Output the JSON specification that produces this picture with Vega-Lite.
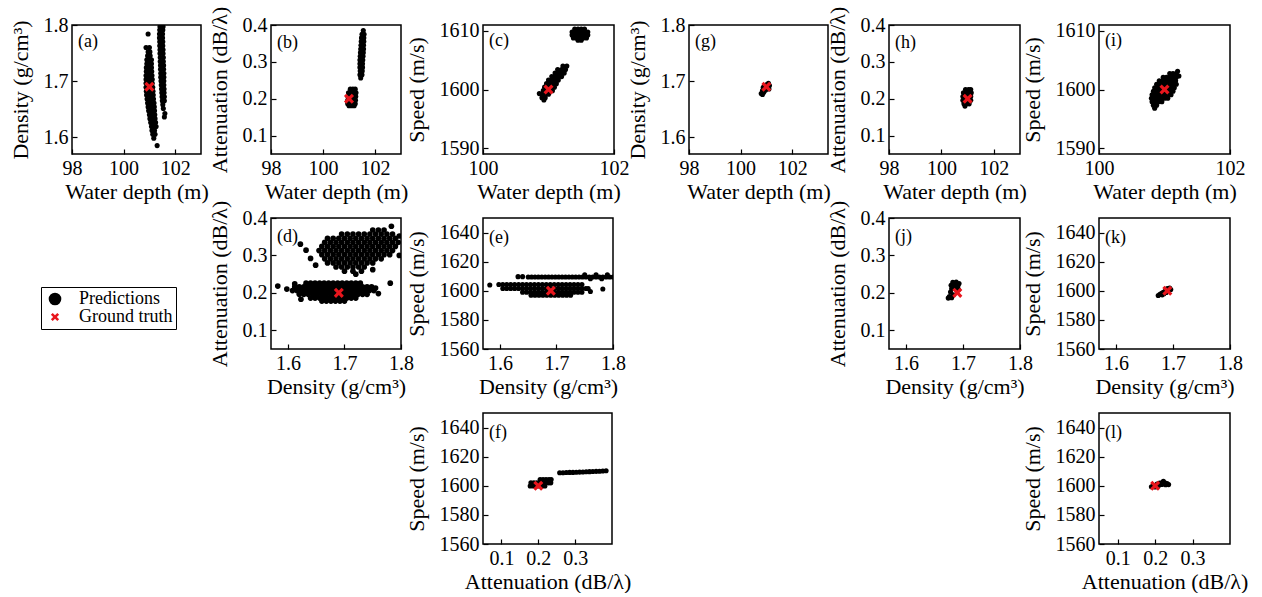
{
"$schema":"https://vega.github.io/schema/vega-lite/v6.json",
"background":"white",
"padding":{"left":0,"top":5,"right":0,"bottom":0},
"data":{"values":[{}]},
"config":{
 "view":{"stroke":null},
 "point":{"filled":true,"opacity":1,"size":26},
 "axis":{"domain":false,"grid":false,"tickColor":"black","tickSize":-5,"tickWidth":1.2,"labelFont":"Liberation Serif","labelFontSize":20,"labelColor":"black","labelPadding":9,"labelFlush":false,"labelOverlap":false,"titleFont":"Liberation Serif","titleFontSize":22,"titleFontWeight":"normal","titleColor":"black","titlePadding":7},
 "axisX":{"titlePadding":3},
 "axisY":{"titlePadding":11},
 "title":{"anchor":"start","frame":"group","offset":0,"dx":6,"dy":40,"baseline":"alphabetic","font":"Liberation Serif","fontSize":18,"fontWeight":"normal","color":"black"},
 "legend":{"strokeColor":"black","padding":3,"fillColor":"white","labelFont":"Liberation Serif","labelFontSize":18,"labelColor":"black","symbolSize":160,"symbolStrokeWidth":0,"rowPadding":0,"labelOffset":15,"symbolOffset":2}
},
"columns":12,
"align":"each",
"bounds":"flush",
"spacing":{"row":64,"column":0},
"concat":[
 {"width":72,"height":1,"mark":"text"},
 {"width":129,"height":129,"view":{"stroke":"black","strokeWidth":1.5},"title":{"text":"(a)","dy":40},
  "encoding":{"x":{"field":"x","type":"quantitative","scale":{"domain":[98,103],"nice":false},"axis":{"values":[98,100,102],"format":"d","title":"Water depth (m)"}},
              "y":{"field":"y","type":"quantitative","scale":{"domain":[1.57,1.8],"nice":false},"axis":{"values":[1.6,1.7,1.8],"format":".1f","title":"Density (g/cm³)"}}},
  "layer":[
   {"data":{"name":"a"},"mark":{"type":"point","clip":true},"encoding":{
     "color":{"datum":"Predictions","scale":{"domain":["Predictions","Ground truth"],"range":["#000000","#e8161d"]},"legend":{"orient":"none","legendX":41,"legendY":262,"title":null}},
     "shape":{"datum":"Predictions","scale":{"domain":["Predictions","Ground truth"],"range":["circle","M-0.65,-0.36L-0.36,-0.65L0,-0.29L0.36,-0.65L0.65,-0.36L0.29,0L0.65,0.36L0.36,0.65L0,0.29L-0.36,0.65L-0.65,0.36L-0.29,0Z"]},"legend":{"orient":"none","legendX":41,"legendY":262,"title":null}}}},
   {"data":{"values":[{"x":101,"y":1.69}]},"mark":{"type":"point","size":240},"encoding":{"color":{"datum":"Ground truth"},"shape":{"datum":"Ground truth"}}}
  ]},
 {"width":70,"height":1,"mark":"text"},
 {"width":130,"height":129,"view":{"stroke":"black","strokeWidth":1.5},"title":{"text":"(b)","dy":50},
  "encoding":{"x":{"field":"x","type":"quantitative","scale":{"domain":[98,103],"nice":false},"axis":{"values":[98,100,102],"format":"d","title":"Water depth (m)"}},
              "y":{"field":"y","type":"quantitative","scale":{"domain":[0.05,0.4],"nice":false},"axis":{"values":[0.1,0.2,0.3,0.4],"format":".1f","title":"Attenuation (dB/λ)"}}},
  "layer":[
   {"data":{"name":"b"},"mark":{"type":"point","clip":true},"encoding":{"color":{"datum":"Predictions"},"shape":{"datum":"Predictions"}}},
   {"data":{"values":[{"x":101,"y":0.2}]},"mark":{"type":"point","size":240},"encoding":{"color":{"datum":"Ground truth"},"shape":{"datum":"Ground truth"}}}
  ]},
 {"width":82,"height":1,"mark":"text"},
 {"width":131,"height":129,"view":{"stroke":"black","strokeWidth":1.5},"title":{"text":"(c)","dy":33},
  "encoding":{"x":{"field":"x","type":"quantitative","scale":{"domain":[100,102],"nice":false},"axis":{"values":[100,101,102],"format":"d","title":"Water depth (m)"}},
              "y":{"field":"y","type":"quantitative","scale":{"domain":[1589,1611],"nice":false},"axis":{"values":[1590,1600,1610],"format":"d","title":"Speed (m/s)"}}},
  "layer":[
   {"data":{"name":"c"},"mark":{"type":"point","clip":true},"encoding":{"color":{"datum":"Predictions"},"shape":{"datum":"Predictions"}}},
   {"data":{"values":[{"x":101,"y":1600}]},"mark":{"type":"point","size":240},"encoding":{"color":{"datum":"Ground truth"},"shape":{"datum":"Ground truth"}}}
  ]},
 {"width":75,"height":1,"mark":"text"},
 {"width":139,"height":129,"view":{"stroke":"black","strokeWidth":1.5},"title":{"text":"(g)","dy":40},
  "encoding":{"x":{"field":"x","type":"quantitative","scale":{"domain":[98,103.39],"nice":false},"axis":{"values":[98,100,102],"format":"d","title":"Water depth (m)"}},
              "y":{"field":"y","type":"quantitative","scale":{"domain":[1.57,1.8],"nice":false},"axis":{"values":[1.6,1.7,1.8],"format":".1f","title":"Density (g/cm³)"}}},
  "layer":[
   {"data":{"name":"g"},"mark":{"type":"point","clip":true},"encoding":{"color":{"datum":"Predictions"},"shape":{"datum":"Predictions"}}},
   {"data":{"values":[{"x":101,"y":1.69}]},"mark":{"type":"point","size":240},"encoding":{"color":{"datum":"Ground truth"},"shape":{"datum":"Ground truth"}}}
  ]},
 {"width":61,"height":1,"mark":"text"},
 {"width":131,"height":129,"view":{"stroke":"black","strokeWidth":1.5},"title":{"text":"(h)","dy":50},
  "encoding":{"x":{"field":"x","type":"quantitative","scale":{"domain":[98,103],"nice":false},"axis":{"values":[98,100,102],"format":"d","title":"Water depth (m)"}},
              "y":{"field":"y","type":"quantitative","scale":{"domain":[0.05,0.4],"nice":false},"axis":{"values":[0.1,0.2,0.3,0.4],"format":".1f","title":"Attenuation (dB/λ)"}}},
  "layer":[
   {"data":{"name":"h"},"mark":{"type":"point","clip":true},"encoding":{"color":{"datum":"Predictions"},"shape":{"datum":"Predictions"}}},
   {"data":{"values":[{"x":101,"y":0.2}]},"mark":{"type":"point","size":240},"encoding":{"color":{"datum":"Ground truth"},"shape":{"datum":"Ground truth"}}}
  ]},
 {"width":79,"height":1,"mark":"text"},
 {"width":131,"height":129,"view":{"stroke":"black","strokeWidth":1.5},"title":{"text":"(i)","dy":33},
  "encoding":{"x":{"field":"x","type":"quantitative","scale":{"domain":[100,102],"nice":false},"axis":{"values":[100,101,102],"format":"d","title":"Water depth (m)"}},
              "y":{"field":"y","type":"quantitative","scale":{"domain":[1589,1611],"nice":false},"axis":{"values":[1590,1600,1610],"format":"d","title":"Speed (m/s)"}}},
  "layer":[
   {"data":{"name":"i"},"mark":{"type":"point","clip":true},"encoding":{"color":{"datum":"Predictions"},"shape":{"datum":"Predictions"}}},
   {"data":{"values":[{"x":101,"y":1600}]},"mark":{"type":"point","size":240},"encoding":{"color":{"datum":"Ground truth"},"shape":{"datum":"Ground truth"}}}
  ]},

 {"width":1,"height":1,"mark":"text"},
 {"width":1,"height":1,"mark":"text"},
 {"width":1,"height":1,"mark":"text"},
 {"width":130,"height":131,"view":{"stroke":"black","strokeWidth":1.5},"title":{"text":"(d)","dy":50},
  "encoding":{"x":{"field":"x","type":"quantitative","scale":{"domain":[1.57,1.8],"nice":false},"axis":{"values":[1.6,1.7,1.8],"format":".1f","title":"Density (g/cm³)"}},
              "y":{"field":"y","type":"quantitative","scale":{"domain":[0.05,0.4],"nice":false},"axis":{"values":[0.1,0.2,0.3,0.4],"format":".1f","title":"Attenuation (dB/λ)"}}},
  "layer":[
   {"data":{"name":"d"},"mark":{"type":"point","clip":true,"size":32},"encoding":{"color":{"datum":"Predictions"},"shape":{"datum":"Predictions"}}},
   {"data":{"values":[{"x":1.69,"y":0.2}]},"mark":{"type":"point","size":240},"encoding":{"color":{"datum":"Ground truth"},"shape":{"datum":"Ground truth"}}}
  ]},
 {"width":1,"height":1,"mark":"text"},
 {"width":130,"height":131,"view":{"stroke":"black","strokeWidth":1.5},"title":{"text":"(e)","dy":33},
  "encoding":{"x":{"field":"x","type":"quantitative","scale":{"domain":[1.57,1.8],"nice":false},"axis":{"values":[1.6,1.7,1.8],"format":".1f","title":"Density (g/cm³)"}},
              "y":{"field":"y","type":"quantitative","scale":{"domain":[1560,1650],"nice":false},"axis":{"values":[1560,1580,1600,1620,1640],"format":"d","title":"Speed (m/s)"}}},
  "layer":[
   {"data":{"name":"e"},"mark":{"type":"point","clip":true},"encoding":{"color":{"datum":"Predictions"},"shape":{"datum":"Predictions"}}},
   {"data":{"values":[{"x":1.69,"y":1600}]},"mark":{"type":"point","size":240},"encoding":{"color":{"datum":"Ground truth"},"shape":{"datum":"Ground truth"}}}
  ]},
 {"width":1,"height":1,"mark":"text"},
 {"width":1,"height":1,"mark":"text"},
 {"width":1,"height":1,"mark":"text"},
 {"width":131,"height":131,"view":{"stroke":"black","strokeWidth":1.5},"title":{"text":"(j)","dy":50},
  "encoding":{"x":{"field":"x","type":"quantitative","scale":{"domain":[1.57,1.8],"nice":false},"axis":{"values":[1.6,1.7,1.8],"format":".1f","title":"Density (g/cm³)"}},
              "y":{"field":"y","type":"quantitative","scale":{"domain":[0.05,0.4],"nice":false},"axis":{"values":[0.1,0.2,0.3,0.4],"format":".1f","title":"Attenuation (dB/λ)"}}},
  "layer":[
   {"data":{"name":"j"},"mark":{"type":"point","clip":true},"encoding":{"color":{"datum":"Predictions"},"shape":{"datum":"Predictions"}}},
   {"data":{"values":[{"x":1.69,"y":0.2}]},"mark":{"type":"point","size":240},"encoding":{"color":{"datum":"Ground truth"},"shape":{"datum":"Ground truth"}}}
  ]},
 {"width":1,"height":1,"mark":"text"},
 {"width":131,"height":131,"view":{"stroke":"black","strokeWidth":1.5},"title":{"text":"(k)","dy":33},
  "encoding":{"x":{"field":"x","type":"quantitative","scale":{"domain":[1.57,1.8],"nice":false},"axis":{"values":[1.6,1.7,1.8],"format":".1f","title":"Density (g/cm³)"}},
              "y":{"field":"y","type":"quantitative","scale":{"domain":[1560,1650],"nice":false},"axis":{"values":[1560,1580,1600,1620,1640],"format":"d","title":"Speed (m/s)"}}},
  "layer":[
   {"data":{"name":"k"},"mark":{"type":"point","clip":true},"encoding":{"color":{"datum":"Predictions"},"shape":{"datum":"Predictions"}}},
   {"data":{"values":[{"x":1.69,"y":1600}]},"mark":{"type":"point","size":240},"encoding":{"color":{"datum":"Ground truth"},"shape":{"datum":"Ground truth"}}}
  ]},

 {"width":1,"height":1,"mark":"text"},
 {"width":1,"height":1,"mark":"text"},
 {"width":1,"height":1,"mark":"text"},
 {"width":1,"height":1,"mark":"text"},
 {"width":1,"height":1,"mark":"text"},
 {"width":129,"height":131,"view":{"stroke":"black","strokeWidth":1.5},"title":{"text":"(f)","dy":33},
  "encoding":{"x":{"field":"x","type":"quantitative","scale":{"domain":[0.05,0.4],"nice":false},"axis":{"values":[0.1,0.2,0.3],"format":".1f","title":"Attenuation (dB/λ)"}},
              "y":{"field":"y","type":"quantitative","scale":{"domain":[1560,1650],"nice":false},"axis":{"values":[1560,1580,1600,1620,1640],"format":"d","title":"Speed (m/s)"}}},
  "layer":[
   {"data":{"name":"f"},"mark":{"type":"point","clip":true},"encoding":{"color":{"datum":"Predictions"},"shape":{"datum":"Predictions"}}},
   {"data":{"values":[{"x":0.2,"y":1600}]},"mark":{"type":"point","size":240},"encoding":{"color":{"datum":"Ground truth"},"shape":{"datum":"Ground truth"}}}
  ]},
 {"width":1,"height":1,"mark":"text"},
 {"width":1,"height":1,"mark":"text"},
 {"width":1,"height":1,"mark":"text"},
 {"width":1,"height":1,"mark":"text"},
 {"width":1,"height":1,"mark":"text"},
 {"width":131,"height":131,"view":{"stroke":"black","strokeWidth":1.5},"title":{"text":"(l)","dy":33},
  "encoding":{"x":{"field":"x","type":"quantitative","scale":{"domain":[0.05,0.4],"nice":false},"axis":{"values":[0.1,0.2,0.3],"format":".1f","title":"Attenuation (dB/λ)"}},
              "y":{"field":"y","type":"quantitative","scale":{"domain":[1560,1650],"nice":false},"axis":{"values":[1560,1580,1600,1620,1640],"format":"d","title":"Speed (m/s)"}}},
  "layer":[
   {"data":{"name":"l"},"mark":{"type":"point","clip":true},"encoding":{"color":{"datum":"Predictions"},"shape":{"datum":"Predictions"}}},
   {"data":{"values":[{"x":0.2,"y":1600}]},"mark":{"type":"point","size":240},"encoding":{"color":{"datum":"Ground truth"},"shape":{"datum":"Ground truth"}}}
  ]}
],
"datasets":{
"a":[
{"x":100.95,"y":1.752},{"x":101.02,"y":1.752},{"x":100.93,"y":1.745},{"x":101.03,"y":1.745},
{"x":100.9,"y":1.738},{"x":101,"y":1.738},{"x":101.08,"y":1.738},
{"x":100.9,"y":1.731},{"x":101,"y":1.731},{"x":101.08,"y":1.731},
{"x":100.88,"y":1.724},{"x":100.98,"y":1.724},{"x":101.08,"y":1.724},
{"x":100.88,"y":1.717},{"x":100.98,"y":1.717},{"x":101.09,"y":1.717},
{"x":100.87,"y":1.71},{"x":100.98,"y":1.71},{"x":101.1,"y":1.71},
{"x":100.87,"y":1.703},{"x":100.99,"y":1.703},{"x":101.11,"y":1.703},
{"x":100.87,"y":1.696},{"x":100.99,"y":1.696},{"x":101.11,"y":1.696},
{"x":100.87,"y":1.689},{"x":101,"y":1.689},{"x":101.13,"y":1.689},
{"x":100.88,"y":1.682},{"x":101.01,"y":1.682},{"x":101.14,"y":1.682},
{"x":100.89,"y":1.675},{"x":101.02,"y":1.675},{"x":101.15,"y":1.675},
{"x":100.91,"y":1.668},{"x":101.04,"y":1.668},{"x":101.16,"y":1.668},
{"x":100.93,"y":1.661},{"x":101.05,"y":1.661},{"x":101.18,"y":1.661},
{"x":100.95,"y":1.654},{"x":101.07,"y":1.654},{"x":101.19,"y":1.654},
{"x":100.97,"y":1.647},{"x":101.09,"y":1.647},{"x":101.2,"y":1.647},
{"x":101,"y":1.64},{"x":101.1,"y":1.64},{"x":101.21,"y":1.64},
{"x":101.02,"y":1.633},{"x":101.12,"y":1.633},{"x":101.22,"y":1.633},
{"x":101.05,"y":1.626},{"x":101.15,"y":1.626},{"x":101.24,"y":1.626},
{"x":101.08,"y":1.619},{"x":101.18,"y":1.619},{"x":101.26,"y":1.619},
{"x":101.1,"y":1.612},{"x":101.2,"y":1.612},{"x":101.13,"y":1.605},{"x":101.22,"y":1.605},
{"x":101.17,"y":1.598},{"x":100.95,"y":1.784},{"x":100.87,"y":1.76},{"x":101,"y":1.76},{"x":101.3,"y":1.585},
{"x":101.41,"y":1.797},{"x":101.53,"y":1.797},{"x":101.4,"y":1.791},{"x":101.52,"y":1.791},
{"x":101.39,"y":1.784},{"x":101.51,"y":1.784},{"x":101.39,"y":1.777},{"x":101.51,"y":1.777},
{"x":101.4,"y":1.77},{"x":101.52,"y":1.77},{"x":101.4,"y":1.763},{"x":101.52,"y":1.763},
{"x":101.41,"y":1.756},{"x":101.53,"y":1.756},{"x":101.41,"y":1.749},{"x":101.53,"y":1.749},
{"x":101.42,"y":1.742},{"x":101.54,"y":1.742},{"x":101.42,"y":1.735},{"x":101.54,"y":1.735},
{"x":101.43,"y":1.728},{"x":101.55,"y":1.728},{"x":101.43,"y":1.721},{"x":101.55,"y":1.721},
{"x":101.44,"y":1.714},{"x":101.56,"y":1.714},{"x":101.44,"y":1.707},{"x":101.56,"y":1.707},
{"x":101.45,"y":1.7},{"x":101.56,"y":1.7},{"x":101.46,"y":1.693},{"x":101.56,"y":1.693},
{"x":101.47,"y":1.686},{"x":101.57,"y":1.686},{"x":101.48,"y":1.679},{"x":101.57,"y":1.679},
{"x":101.49,"y":1.672},{"x":101.58,"y":1.672},{"x":101.5,"y":1.665},{"x":101.58,"y":1.665},
{"x":101.52,"y":1.658},{"x":101.54,"y":1.651},{"x":101.6,"y":1.642},{"x":101.58,"y":1.636}
],
"b":[
{"x":101.55,"y":0.385},{"x":101.5,"y":0.375},{"x":101.58,"y":0.375},{"x":101.48,"y":0.365},{"x":101.57,"y":0.365},
{"x":101.47,"y":0.355},{"x":101.57,"y":0.355},{"x":101.46,"y":0.345},{"x":101.56,"y":0.345},
{"x":101.45,"y":0.335},{"x":101.56,"y":0.335},{"x":101.44,"y":0.325},{"x":101.55,"y":0.325},
{"x":101.43,"y":0.315},{"x":101.54,"y":0.315},{"x":101.42,"y":0.305},{"x":101.53,"y":0.305},
{"x":101.42,"y":0.295},{"x":101.52,"y":0.295},{"x":101.42,"y":0.285},{"x":101.52,"y":0.285},
{"x":101.43,"y":0.275},{"x":101.51,"y":0.275},{"x":101.42,"y":0.265},{"x":101.5,"y":0.265},{"x":101.45,"y":0.256},
{"x":101.05,"y":0.226},{"x":101.15,"y":0.226},{"x":101.24,"y":0.226},
{"x":100.98,"y":0.216},{"x":101.08,"y":0.216},{"x":101.18,"y":0.216},{"x":101.27,"y":0.216},
{"x":100.96,"y":0.206},{"x":101.06,"y":0.206},{"x":101.16,"y":0.206},{"x":101.26,"y":0.206},
{"x":100.95,"y":0.196},{"x":101.05,"y":0.196},{"x":101.15,"y":0.196},{"x":101.25,"y":0.196},
{"x":100.95,"y":0.186},{"x":101.05,"y":0.186},{"x":101.15,"y":0.186},{"x":101.24,"y":0.186},
{"x":101,"y":0.181},{"x":101.1,"y":0.181},{"x":101.2,"y":0.181}
],
"c":[
{"x":101.4,"y":1610.3},{"x":101.45,"y":1610.3},{"x":101.5,"y":1610.3},{"x":101.55,"y":1610.3},
{"x":101.36,"y":1609.8},{"x":101.41,"y":1609.8},{"x":101.46,"y":1609.8},{"x":101.51,"y":1609.8},{"x":101.56,"y":1609.8},{"x":101.6,"y":1609.8},
{"x":101.36,"y":1609.3},{"x":101.41,"y":1609.3},{"x":101.46,"y":1609.3},{"x":101.51,"y":1609.3},{"x":101.56,"y":1609.3},{"x":101.6,"y":1609.3},
{"x":101.38,"y":1608.8},{"x":101.43,"y":1608.8},{"x":101.48,"y":1608.8},{"x":101.53,"y":1608.8},{"x":101.58,"y":1608.8},
{"x":101.45,"y":1608.4},{"x":101.5,"y":1608.4},
{"x":101.22,"y":1604},{"x":101.28,"y":1604},
{"x":101.14,"y":1603.4},{"x":101.2,"y":1603.4},{"x":101.26,"y":1603.4},
{"x":101.1,"y":1602.8},{"x":101.15,"y":1602.8},{"x":101.2,"y":1602.8},{"x":101.24,"y":1602.8},
{"x":101.05,"y":1602.2},{"x":101.1,"y":1602.2},{"x":101.15,"y":1602.2},{"x":101.2,"y":1602.2},
{"x":101,"y":1601.6},{"x":101.05,"y":1601.6},{"x":101.1,"y":1601.6},{"x":101.15,"y":1601.6},
{"x":100.97,"y":1601},{"x":101.02,"y":1601},{"x":101.07,"y":1601},{"x":101.12,"y":1601},
{"x":100.94,"y":1600.4},{"x":100.99,"y":1600.4},{"x":101.04,"y":1600.4},{"x":101.09,"y":1600.4},
{"x":100.92,"y":1599.8},{"x":100.97,"y":1599.8},{"x":101.02,"y":1599.8},{"x":101.06,"y":1599.8},
{"x":100.9,"y":1599.2},{"x":100.95,"y":1599.2},{"x":101,"y":1599.2},
{"x":100.9,"y":1598.6},{"x":100.95,"y":1598.6},{"x":100.93,"y":1598.2},{"x":100.86,"y":1599.3}
],
"d":[
{"x":1.75,"y":0.368},{"x":1.76,"y":0.368},{"x":1.77,"y":0.368},
{"x":1.695,"y":0.357},{"x":1.705,"y":0.357},{"x":1.715,"y":0.357},{"x":1.725,"y":0.357},{"x":1.735,"y":0.357},{"x":1.745,"y":0.357},{"x":1.755,"y":0.357},{"x":1.765,"y":0.357},{"x":1.775,"y":0.357},{"x":1.785,"y":0.357},
{"x":1.67,"y":0.346},{"x":1.68,"y":0.346},{"x":1.69,"y":0.346},{"x":1.7,"y":0.346},{"x":1.71,"y":0.346},{"x":1.72,"y":0.346},{"x":1.73,"y":0.346},{"x":1.74,"y":0.346},{"x":1.75,"y":0.346},{"x":1.76,"y":0.346},{"x":1.77,"y":0.346},{"x":1.78,"y":0.346},{"x":1.79,"y":0.346},
{"x":1.665,"y":0.335},{"x":1.675,"y":0.335},{"x":1.685,"y":0.335},{"x":1.695,"y":0.335},{"x":1.705,"y":0.335},{"x":1.715,"y":0.335},{"x":1.725,"y":0.335},{"x":1.735,"y":0.335},{"x":1.745,"y":0.335},{"x":1.755,"y":0.335},{"x":1.765,"y":0.335},{"x":1.775,"y":0.335},{"x":1.785,"y":0.335},{"x":1.795,"y":0.335},
{"x":1.66,"y":0.324},{"x":1.67,"y":0.324},{"x":1.68,"y":0.324},{"x":1.69,"y":0.324},{"x":1.7,"y":0.324},{"x":1.71,"y":0.324},{"x":1.72,"y":0.324},{"x":1.73,"y":0.324},{"x":1.74,"y":0.324},{"x":1.75,"y":0.324},{"x":1.76,"y":0.324},{"x":1.77,"y":0.324},{"x":1.78,"y":0.324},{"x":1.79,"y":0.324},
{"x":1.655,"y":0.313},{"x":1.665,"y":0.313},{"x":1.675,"y":0.313},{"x":1.685,"y":0.313},{"x":1.695,"y":0.313},{"x":1.705,"y":0.313},{"x":1.715,"y":0.313},{"x":1.725,"y":0.313},{"x":1.735,"y":0.313},{"x":1.745,"y":0.313},{"x":1.755,"y":0.313},{"x":1.765,"y":0.313},{"x":1.775,"y":0.313},{"x":1.785,"y":0.313},
{"x":1.66,"y":0.302},{"x":1.67,"y":0.302},{"x":1.68,"y":0.302},{"x":1.69,"y":0.302},{"x":1.7,"y":0.302},{"x":1.71,"y":0.302},{"x":1.72,"y":0.302},{"x":1.73,"y":0.302},{"x":1.74,"y":0.302},{"x":1.75,"y":0.302},{"x":1.76,"y":0.302},{"x":1.77,"y":0.302},{"x":1.78,"y":0.302},
{"x":1.665,"y":0.291},{"x":1.675,"y":0.291},{"x":1.685,"y":0.291},{"x":1.695,"y":0.291},{"x":1.705,"y":0.291},{"x":1.715,"y":0.291},{"x":1.725,"y":0.291},{"x":1.735,"y":0.291},{"x":1.745,"y":0.291},{"x":1.755,"y":0.291},{"x":1.765,"y":0.291},
{"x":1.67,"y":0.28},{"x":1.68,"y":0.28},{"x":1.69,"y":0.28},{"x":1.7,"y":0.28},{"x":1.71,"y":0.28},{"x":1.72,"y":0.28},{"x":1.73,"y":0.28},{"x":1.74,"y":0.28},{"x":1.75,"y":0.28},
{"x":1.685,"y":0.269},{"x":1.695,"y":0.269},{"x":1.705,"y":0.269},{"x":1.715,"y":0.269},{"x":1.725,"y":0.269},{"x":1.735,"y":0.269},
{"x":1.7,"y":0.258},{"x":1.715,"y":0.258},{"x":1.73,"y":0.258},
{"x":1.632,"y":0.314},{"x":1.64,"y":0.292},{"x":1.649,"y":0.274},{"x":1.783,"y":0.378},{"x":1.797,"y":0.352},{"x":1.72,"y":0.25},{"x":1.75,"y":0.262},{"x":1.622,"y":0.33},{"x":1.797,"y":0.3},
{"x":1.632,"y":0.226},{"x":1.64,"y":0.226},{"x":1.648,"y":0.226},{"x":1.656,"y":0.226},{"x":1.664,"y":0.226},{"x":1.672,"y":0.226},{"x":1.68,"y":0.226},{"x":1.688,"y":0.226},{"x":1.696,"y":0.226},{"x":1.704,"y":0.226},{"x":1.712,"y":0.226},{"x":1.72,"y":0.226},{"x":1.728,"y":0.226},
{"x":1.612,"y":0.216},{"x":1.62,"y":0.216},{"x":1.628,"y":0.216},{"x":1.636,"y":0.216},{"x":1.644,"y":0.216},{"x":1.652,"y":0.216},{"x":1.66,"y":0.216},{"x":1.668,"y":0.216},{"x":1.676,"y":0.216},{"x":1.684,"y":0.216},{"x":1.692,"y":0.216},{"x":1.7,"y":0.216},{"x":1.708,"y":0.216},{"x":1.716,"y":0.216},{"x":1.724,"y":0.216},{"x":1.732,"y":0.216},{"x":1.74,"y":0.216},{"x":1.748,"y":0.216},
{"x":1.608,"y":0.206},{"x":1.616,"y":0.206},{"x":1.624,"y":0.206},{"x":1.632,"y":0.206},{"x":1.64,"y":0.206},{"x":1.648,"y":0.206},{"x":1.656,"y":0.206},{"x":1.664,"y":0.206},{"x":1.672,"y":0.206},{"x":1.68,"y":0.206},{"x":1.688,"y":0.206},{"x":1.696,"y":0.206},{"x":1.704,"y":0.206},{"x":1.712,"y":0.206},{"x":1.72,"y":0.206},{"x":1.728,"y":0.206},{"x":1.736,"y":0.206},{"x":1.744,"y":0.206},{"x":1.752,"y":0.206},
{"x":1.62,"y":0.196},{"x":1.628,"y":0.196},{"x":1.636,"y":0.196},{"x":1.644,"y":0.196},{"x":1.652,"y":0.196},{"x":1.66,"y":0.196},{"x":1.668,"y":0.196},{"x":1.676,"y":0.196},{"x":1.684,"y":0.196},{"x":1.692,"y":0.196},{"x":1.7,"y":0.196},{"x":1.708,"y":0.196},{"x":1.716,"y":0.196},{"x":1.724,"y":0.196},{"x":1.732,"y":0.196},{"x":1.74,"y":0.196},
{"x":1.64,"y":0.186},{"x":1.648,"y":0.186},{"x":1.656,"y":0.186},{"x":1.664,"y":0.186},{"x":1.672,"y":0.186},{"x":1.68,"y":0.186},{"x":1.688,"y":0.186},{"x":1.696,"y":0.186},{"x":1.704,"y":0.186},{"x":1.712,"y":0.186},{"x":1.72,"y":0.186},
{"x":1.66,"y":0.178},{"x":1.668,"y":0.178},{"x":1.676,"y":0.178},{"x":1.684,"y":0.178},{"x":1.692,"y":0.178},{"x":1.7,"y":0.178},
{"x":1.582,"y":0.218},{"x":1.598,"y":0.21},{"x":1.612,"y":0.224},{"x":1.623,"y":0.183},{"x":1.755,"y":0.213},{"x":1.781,"y":0.226},{"x":1.76,"y":0.198}
],
"e":[
{"x":1.65,"y":1609.5},{"x":1.656,"y":1609.5},{"x":1.662,"y":1609.5},{"x":1.668,"y":1609.5},{"x":1.674,"y":1609.5},{"x":1.68,"y":1609.5},{"x":1.686,"y":1609.5},{"x":1.692,"y":1609.5},{"x":1.698,"y":1609.5},{"x":1.704,"y":1609.5},{"x":1.71,"y":1609.5},{"x":1.716,"y":1609.5},{"x":1.722,"y":1609.5},{"x":1.728,"y":1609.5},{"x":1.734,"y":1609.5},{"x":1.74,"y":1609.5},{"x":1.746,"y":1609.5},{"x":1.752,"y":1609.5},{"x":1.758,"y":1609.5},{"x":1.764,"y":1609.5},{"x":1.77,"y":1609.5},{"x":1.776,"y":1609.5},{"x":1.782,"y":1609.5},{"x":1.788,"y":1609.5},{"x":1.794,"y":1609.5},{"x":1.8,"y":1609.5},
{"x":1.632,"y":1609.7},{"x":1.64,"y":1609.7},{"x":1.75,"y":1611},{"x":1.77,"y":1611},{"x":1.79,"y":1611},{"x":1.76,"y":1608.3},{"x":1.78,"y":1608.3},
{"x":1.598,"y":1604.3},{"x":1.605,"y":1604.3},{"x":1.612,"y":1604.3},{"x":1.619,"y":1604.3},{"x":1.626,"y":1604.3},{"x":1.633,"y":1604.3},{"x":1.64,"y":1604.3},{"x":1.647,"y":1604.3},{"x":1.654,"y":1604.3},{"x":1.661,"y":1604.3},{"x":1.668,"y":1604.3},{"x":1.675,"y":1604.3},{"x":1.682,"y":1604.3},{"x":1.689,"y":1604.3},{"x":1.696,"y":1604.3},{"x":1.703,"y":1604.3},{"x":1.71,"y":1604.3},{"x":1.717,"y":1604.3},{"x":1.724,"y":1604.3},{"x":1.731,"y":1604.3},{"x":1.738,"y":1604.3},{"x":1.745,"y":1604.3},
{"x":1.605,"y":1601.6},{"x":1.612,"y":1601.6},{"x":1.619,"y":1601.6},{"x":1.626,"y":1601.6},{"x":1.633,"y":1601.6},{"x":1.64,"y":1601.6},{"x":1.647,"y":1601.6},{"x":1.654,"y":1601.6},{"x":1.661,"y":1601.6},{"x":1.668,"y":1601.6},{"x":1.675,"y":1601.6},{"x":1.682,"y":1601.6},{"x":1.689,"y":1601.6},{"x":1.696,"y":1601.6},{"x":1.703,"y":1601.6},{"x":1.71,"y":1601.6},{"x":1.717,"y":1601.6},{"x":1.724,"y":1601.6},{"x":1.731,"y":1601.6},{"x":1.738,"y":1601.6},{"x":1.745,"y":1601.6},{"x":1.752,"y":1601.6},{"x":1.756,"y":1601.6},
{"x":1.64,"y":1599},{"x":1.647,"y":1599},{"x":1.654,"y":1599},{"x":1.661,"y":1599},{"x":1.668,"y":1599},{"x":1.675,"y":1599},{"x":1.682,"y":1599},{"x":1.689,"y":1599},{"x":1.696,"y":1599},{"x":1.703,"y":1599},{"x":1.71,"y":1599},{"x":1.717,"y":1599},{"x":1.724,"y":1599},{"x":1.731,"y":1599},{"x":1.738,"y":1599},{"x":1.745,"y":1599},
{"x":1.655,"y":1597},{"x":1.662,"y":1597},{"x":1.669,"y":1597},{"x":1.676,"y":1597},{"x":1.683,"y":1597},{"x":1.69,"y":1597},{"x":1.697,"y":1597},{"x":1.704,"y":1597},{"x":1.711,"y":1597},{"x":1.718,"y":1597},{"x":1.725,"y":1597},
{"x":1.582,"y":1604},{"x":1.782,"y":1601.2},{"x":1.76,"y":1599.5}
],
"f":[
{"x":0.205,"y":1604.3},{"x":0.213,"y":1604.3},{"x":0.221,"y":1604.3},{"x":0.229,"y":1604.3},{"x":0.235,"y":1604.3},
{"x":0.18,"y":1602},{"x":0.188,"y":1602},{"x":0.196,"y":1602},{"x":0.204,"y":1602},{"x":0.212,"y":1602},{"x":0.22,"y":1602},{"x":0.228,"y":1602},{"x":0.234,"y":1602},
{"x":0.178,"y":1599.8},{"x":0.186,"y":1599.8},{"x":0.194,"y":1599.8},{"x":0.202,"y":1599.8},{"x":0.21,"y":1599.8},{"x":0.218,"y":1599.8},
{"x":0.258,"y":1609},{"x":0.267,"y":1609},{"x":0.276,"y":1609.1},{"x":0.285,"y":1609.2},{"x":0.294,"y":1609.2},{"x":0.303,"y":1609.3},{"x":0.312,"y":1609.4},{"x":0.321,"y":1609.5},{"x":0.33,"y":1609.6},{"x":0.339,"y":1609.7},{"x":0.348,"y":1609.8},{"x":0.357,"y":1609.9},{"x":0.366,"y":1610},{"x":0.375,"y":1610.2},{"x":0.384,"y":1610.3}
],
"g":[
{"x":100.8,"y":1.678},{"x":100.85,"y":1.676},{"x":100.85,"y":1.683},{"x":100.9,"y":1.68},{"x":100.92,"y":1.686},{"x":100.97,"y":1.684},{"x":100.95,"y":1.692},{"x":101.02,"y":1.694},{"x":101.08,"y":1.696},{"x":101.12,"y":1.692},{"x":101.1,"y":1.686},{"x":101.05,"y":1.688},{"x":100.88,"y":1.689}
],
"h":[
{"x":100.92,"y":0.225},{"x":101.04,"y":0.225},{"x":101.12,"y":0.225},
{"x":100.84,"y":0.216},{"x":100.94,"y":0.216},{"x":101.04,"y":0.216},{"x":101.14,"y":0.216},
{"x":100.82,"y":0.206},{"x":100.92,"y":0.206},{"x":101.02,"y":0.206},{"x":101.12,"y":0.206},
{"x":100.82,"y":0.196},{"x":100.92,"y":0.196},{"x":101.02,"y":0.196},{"x":101.12,"y":0.196},
{"x":100.86,"y":0.186},{"x":100.96,"y":0.186},{"x":101.06,"y":0.186},{"x":100.9,"y":0.18}
],
"i":[
{"x":101.08,"y":1602.7},{"x":101.13,"y":1602.7},{"x":101.18,"y":1602.7},
{"x":100.98,"y":1602.1},{"x":101.03,"y":1602.1},{"x":101.08,"y":1602.1},{"x":101.13,"y":1602.1},{"x":101.18,"y":1602.1},
{"x":100.92,"y":1601.5},{"x":100.97,"y":1601.5},{"x":101.02,"y":1601.5},{"x":101.07,"y":1601.5},{"x":101.12,"y":1601.5},{"x":101.17,"y":1601.5},
{"x":100.88,"y":1600.9},{"x":100.93,"y":1600.9},{"x":100.98,"y":1600.9},{"x":101.03,"y":1600.9},{"x":101.08,"y":1600.9},{"x":101.13,"y":1600.9},{"x":101.18,"y":1600.9},
{"x":100.85,"y":1600.3},{"x":100.9,"y":1600.3},{"x":100.95,"y":1600.3},{"x":101,"y":1600.3},{"x":101.05,"y":1600.3},{"x":101.1,"y":1600.3},{"x":101.15,"y":1600.3},
{"x":100.83,"y":1599.7},{"x":100.88,"y":1599.7},{"x":100.93,"y":1599.7},{"x":100.98,"y":1599.7},{"x":101.03,"y":1599.7},{"x":101.08,"y":1599.7},{"x":101.13,"y":1599.7},
{"x":100.81,"y":1599.1},{"x":100.86,"y":1599.1},{"x":100.91,"y":1599.1},{"x":100.96,"y":1599.1},{"x":101.01,"y":1599.1},{"x":101.06,"y":1599.1},{"x":101.1,"y":1599.1},
{"x":100.8,"y":1598.5},{"x":100.85,"y":1598.5},{"x":100.9,"y":1598.5},{"x":100.95,"y":1598.5},{"x":101,"y":1598.5},{"x":101.05,"y":1598.5},
{"x":100.81,"y":1597.9},{"x":100.86,"y":1597.9},{"x":100.91,"y":1597.9},{"x":100.96,"y":1597.9},
{"x":100.83,"y":1597.3},{"x":100.88,"y":1597.3},{"x":100.85,"y":1596.8},{"x":101.2,"y":1603.1},{"x":101.22,"y":1602.3}
],
"j":[
{"x":1.682,"y":0.228},{"x":1.688,"y":0.229},{"x":1.693,"y":0.225},{"x":1.679,"y":0.22},{"x":1.685,"y":0.22},{"x":1.691,"y":0.218},{"x":1.68,"y":0.211},{"x":1.686,"y":0.212},{"x":1.692,"y":0.209},{"x":1.678,"y":0.202},{"x":1.683,"y":0.195},{"x":1.676,"y":0.19},{"x":1.674,"y":0.186},{"x":1.68,"y":0.187}
],
"k":[
{"x":1.674,"y":1596.8},{"x":1.677,"y":1597.5},{"x":1.68,"y":1598.2},{"x":1.683,"y":1598.9},{"x":1.686,"y":1599.6},{"x":1.681,"y":1597.2},{"x":1.684,"y":1598},{"x":1.688,"y":1598.8},{"x":1.69,"y":1601.5},{"x":1.694,"y":1601.8},{"x":1.696,"y":1600.8},{"x":1.688,"y":1600.5}
],
"l":[
{"x":0.19,"y":1599.3},{"x":0.195,"y":1600.2},{"x":0.205,"y":1601.2},{"x":0.212,"y":1601.8},{"x":0.219,"y":1602.2},{"x":0.226,"y":1602},{"x":0.232,"y":1601.5},{"x":0.236,"y":1600.8},{"x":0.228,"y":1600.7},{"x":0.218,"y":1600.9},{"x":0.21,"y":1600.3},{"x":0.2,"y":1599.2},{"x":0.222,"y":1603}
]
}
}
